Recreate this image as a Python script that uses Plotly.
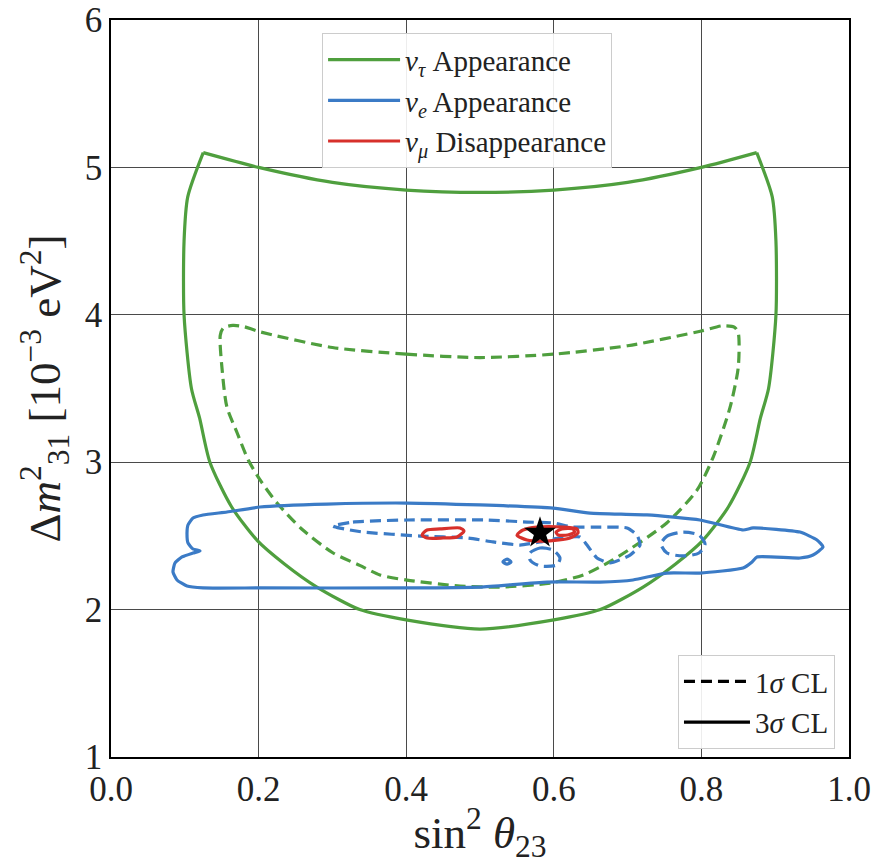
import plotly.graph_objects as go

# ---- contour data (sin^2 theta23, dm2_31 [1e-3 eV^2]) ----
# 3 sigma nu_tau: upper arc between the two corners, and the U-shaped lower boundary
tau_3s_top_x = [0.125, 0.2, 0.3, 0.4, 0.5, 0.6, 0.7, 0.8, 0.875]
tau_3s_top_y = [5.10, 5.00, 4.898, 4.846, 4.83, 4.846, 4.898, 5.00, 5.10]
tau_3s_u_x = [0.125, 0.104, 0.099, 0.099, 0.109, 0.12, 0.134, 0.1635, 0.198, 0.235, 0.279, 0.337, 0.4, 0.5,
              0.6, 0.663, 0.721, 0.765, 0.802, 0.8365, 0.866, 0.88, 0.891, 0.901, 0.901, 0.896, 0.875]
tau_3s_u_y = [5.10, 4.80, 4.50, 4.00, 3.50, 3.30, 3.00, 2.696, 2.47, 2.31, 2.153, 2.00, 1.93, 1.868,
              1.93, 2.00, 2.153, 2.31, 2.47, 2.696, 3.00, 3.30, 3.50, 4.00, 4.50, 4.80, 5.10]

tau_1s_x = [0.3, 0.4, 0.5, 0.6, 0.7, 0.8, 0.828, 0.845, 0.85,
            0.85, 0.839, 0.816, 0.794, 0.753, 0.68, 0.64, 0.595, 0.527, 0.473, 0.401, 0.3645,
            0.337, 0.301, 0.26, 0.225, 0.202, 0.186, 0.171, 0.157, 0.151, 0.148, 0.152, 0.165,
            0.18, 0.2, 0.3]
tau_1s_y = [3.778, 3.733, 3.71, 3.733, 3.79, 3.89, 3.925, 3.915, 3.876,
            3.646, 3.375, 3.035, 2.81, 2.588, 2.337, 2.235, 2.18, 2.153, 2.16, 2.20, 2.235,
            2.30, 2.384, 2.54, 2.723, 2.88, 3.015, 3.198, 3.375, 3.605, 3.86, 3.91, 3.928,
            3.92, 3.887, 3.778]

e_3s_x = [0.2927, 0.4011, 0.5, 0.5989, 0.649, 0.7263, 0.798, 0.8564, 0.870,
          0.9336, 0.9566, 0.9648, 0.9512, 0.9336, 0.8753, 0.8686, 0.8564, 0.798, 0.7534, 0.7073,
          0.6626, 0.5908, 0.5, 0.4011, 0.2019, 0.1247, 0.103, 0.0894, 0.084, 0.0867, 0.0962,
          0.1111, 0.1206, 0.1111, 0.1043, 0.103, 0.1043, 0.1111, 0.1247, 0.1572, 0.2019, 0.2927]
e_3s_y = [2.716, 2.723, 2.710, 2.689, 2.655, 2.642, 2.608, 2.540, 2.554,
          2.526, 2.472, 2.425, 2.370, 2.350, 2.357, 2.323, 2.282, 2.248, 2.248, 2.201,
          2.187, 2.187, 2.153, 2.147, 2.147, 2.147, 2.160, 2.201, 2.255, 2.316, 2.357,
          2.384, 2.398, 2.411, 2.452, 2.520, 2.574, 2.621, 2.642, 2.662, 2.696, 2.716]

# 1 sigma nu_e region: main band, small island below best fit, speck, right-hand island
e_1s_main_x = [0.3008, 0.3279, 0.4011, 0.5095, 0.5637, 0.5989, 0.626, 0.6531, 0.6992, 0.7127, 0.7168,
               0.7033, 0.6762, 0.6585, 0.645, 0.6355, 0.6084, 0.5813, 0.5542, 0.5176, 0.4824, 0.4187,
               0.3415, 0.3103, 0.3008]
e_1s_main_y = [2.567, 2.594, 2.608, 2.608, 2.594, 2.588, 2.560, 2.560, 2.554, 2.506, 2.438,
               2.370, 2.316, 2.350, 2.438, 2.493, 2.486, 2.459, 2.438, 2.459, 2.486, 2.499,
               2.526, 2.553, 2.567]
e_1s_low_x = [0.5678, 0.5813, 0.5989, 0.6084, 0.6043, 0.5813, 0.5678, 0.5678]
e_1s_low_y = [2.384, 2.418, 2.404, 2.350, 2.303, 2.296, 2.337, 2.384]
e_1s_dot_x = [0.531, 0.5366, 0.542, 0.5366, 0.531]
e_1s_dot_y = [2.323, 2.343, 2.323, 2.309, 2.323]
e_1s_right_x = [0.7453, 0.7534, 0.7751, 0.7967, 0.8049, 0.7967, 0.7751, 0.7534, 0.7453]
e_1s_right_y = [2.445, 2.499, 2.526, 2.506, 2.445, 2.384, 2.364, 2.384, 2.445]

mu_a_x = [0.4214, 0.4282, 0.4458, 0.4729, 0.4783, 0.4688, 0.4499, 0.4282, 0.4214]
mu_a_y = [2.506, 2.540, 2.547, 2.554, 2.533, 2.493, 2.486, 2.486, 2.506]
mu_b_x = [0.5501, 0.5583, 0.5772, 0.6125, 0.6314, 0.6328, 0.6220, 0.5908, 0.5637, 0.5501]
mu_b_y = [2.506, 2.540, 2.560, 2.560, 2.547, 2.520, 2.486, 2.465, 2.472, 2.506]
mu_c_x = [0.603, 0.611, 0.626, 0.628, 0.619, 0.606, 0.603]
mu_c_y = [2.526, 2.547, 2.547, 2.526, 2.506, 2.506, 2.526]

best_fit_x = [0.5813]
best_fit_y = [2.52]

x_ticks = [0.0, 0.2, 0.4, 0.6, 0.8, 1.0]
x_tick_text = ["0.0", "0.2", "0.4", "0.6", "0.8", "1.0"]
y_ticks = [1, 2, 3, 4, 5, 6]

GREEN = "#4f9f3e"
BLUE = "#3b7bc6"
RED = "#d7302b"
FONT = "Liberation Serif, serif"
LW = 3.2
DASH = "11px,6px"

fig = go.Figure()


def contour(x, y, color, dash=None, name=None, show=False, group=None, smooth=0.7):
    fig.add_trace(go.Scatter(
        x=x, y=y, mode="lines", name=name, showlegend=show,
        legendgroup=group or name, legend="legend",
        line=dict(color=color, width=LW, dash=dash or "solid",
                  shape="spline", smoothing=smooth),
        hoverinfo="skip"))


contour(tau_3s_top_x, tau_3s_top_y, GREEN, name="<i>ν</i><sub><i>τ</i></sub> Appearance", show=True)
contour(tau_3s_u_x, tau_3s_u_y, GREEN, group="<i>ν</i><sub><i>τ</i></sub> Appearance")
contour(tau_1s_x, tau_1s_y, GREEN, dash=DASH)
contour(e_3s_x, e_3s_y, BLUE, name="<i>ν</i><sub><i>e</i></sub> Appearance", show=True, smooth=0.5)
contour(e_1s_main_x, e_1s_main_y, BLUE, dash=DASH, smooth=0.5)
contour(e_1s_low_x, e_1s_low_y, BLUE, dash=DASH)
contour(e_1s_dot_x, e_1s_dot_y, BLUE)
contour(e_1s_right_x, e_1s_right_y, BLUE, dash=DASH)
contour(mu_a_x, mu_a_y, RED, name="<i>ν</i><sub><i>μ</i></sub> Disappearance", show=True)
contour(mu_b_x, mu_b_y, RED)
contour(mu_c_x, mu_c_y, RED)

fig.add_trace(go.Scatter(
    x=best_fit_x, y=best_fit_y, mode="markers", showlegend=False,
    marker=dict(symbol="star", size=24, color="black", line=dict(width=0))))

# confidence-level key
for label, dash, grp in [("1<i>σ</i> CL", DASH, "cl1"), ("3<i>σ</i> CL", "solid", "cl3")]:
    fig.add_trace(go.Scatter(
        x=[None], y=[None], mode="lines", name=label, legend="legend2", legendgroup=grp,
        line=dict(color="black", width=LW, dash=dash)))

axis_common = dict(
    showgrid=True, gridcolor="#4a4a4a", gridwidth=1,
    showline=True, linecolor="black", linewidth=1.5, mirror=True,
    ticks="", automargin=False,
    tickfont=dict(family=FONT, size=35, color="#222"),
    zeroline=False,
)

fig.update_layout(
    width=879, height=864,
    margin=dict(l=111, r=30, t=20, b=107),
    paper_bgcolor="white", plot_bgcolor="white",
    font=dict(family=FONT, color="#222"),
    xaxis=dict(range=[0, 1], tickvals=x_ticks, ticktext=x_tick_text,
               title=dict(text="sin<sup>2</sup> <i>θ</i><sub>23</sub>",
                          font=dict(family=FONT, size=45), standoff=4),
               **axis_common),
    yaxis=dict(range=[1, 6], tickvals=y_ticks,
               title=dict(text="Δ<i>m</i><sup>2</sup><sub>31</sub> [10<sup>−3</sup> eV<sup>2</sup>]",
                          font=dict(family=FONT, size=45), standoff=10),
               **axis_common),
    legend=dict(
        x=0.286, y=0.982, xanchor="left", yanchor="top",
        bgcolor="rgba(255,255,255,0.9)", bordercolor="#cccccc", borderwidth=1,
        font=dict(family=FONT, size=29, color="#222"),
        itemwidth=72, tracegroupgap=0, traceorder="grouped"),
    legend2=dict(
        x=0.981, y=0.1384, xanchor="right", yanchor="top",
        bgcolor="rgba(255,255,255,0.9)", bordercolor="#cccccc", borderwidth=1,
        font=dict(family=FONT, size=29, color="#222"),
        itemwidth=66, tracegroupgap=0, traceorder="grouped"),
)

fig.write_html("out.html")
